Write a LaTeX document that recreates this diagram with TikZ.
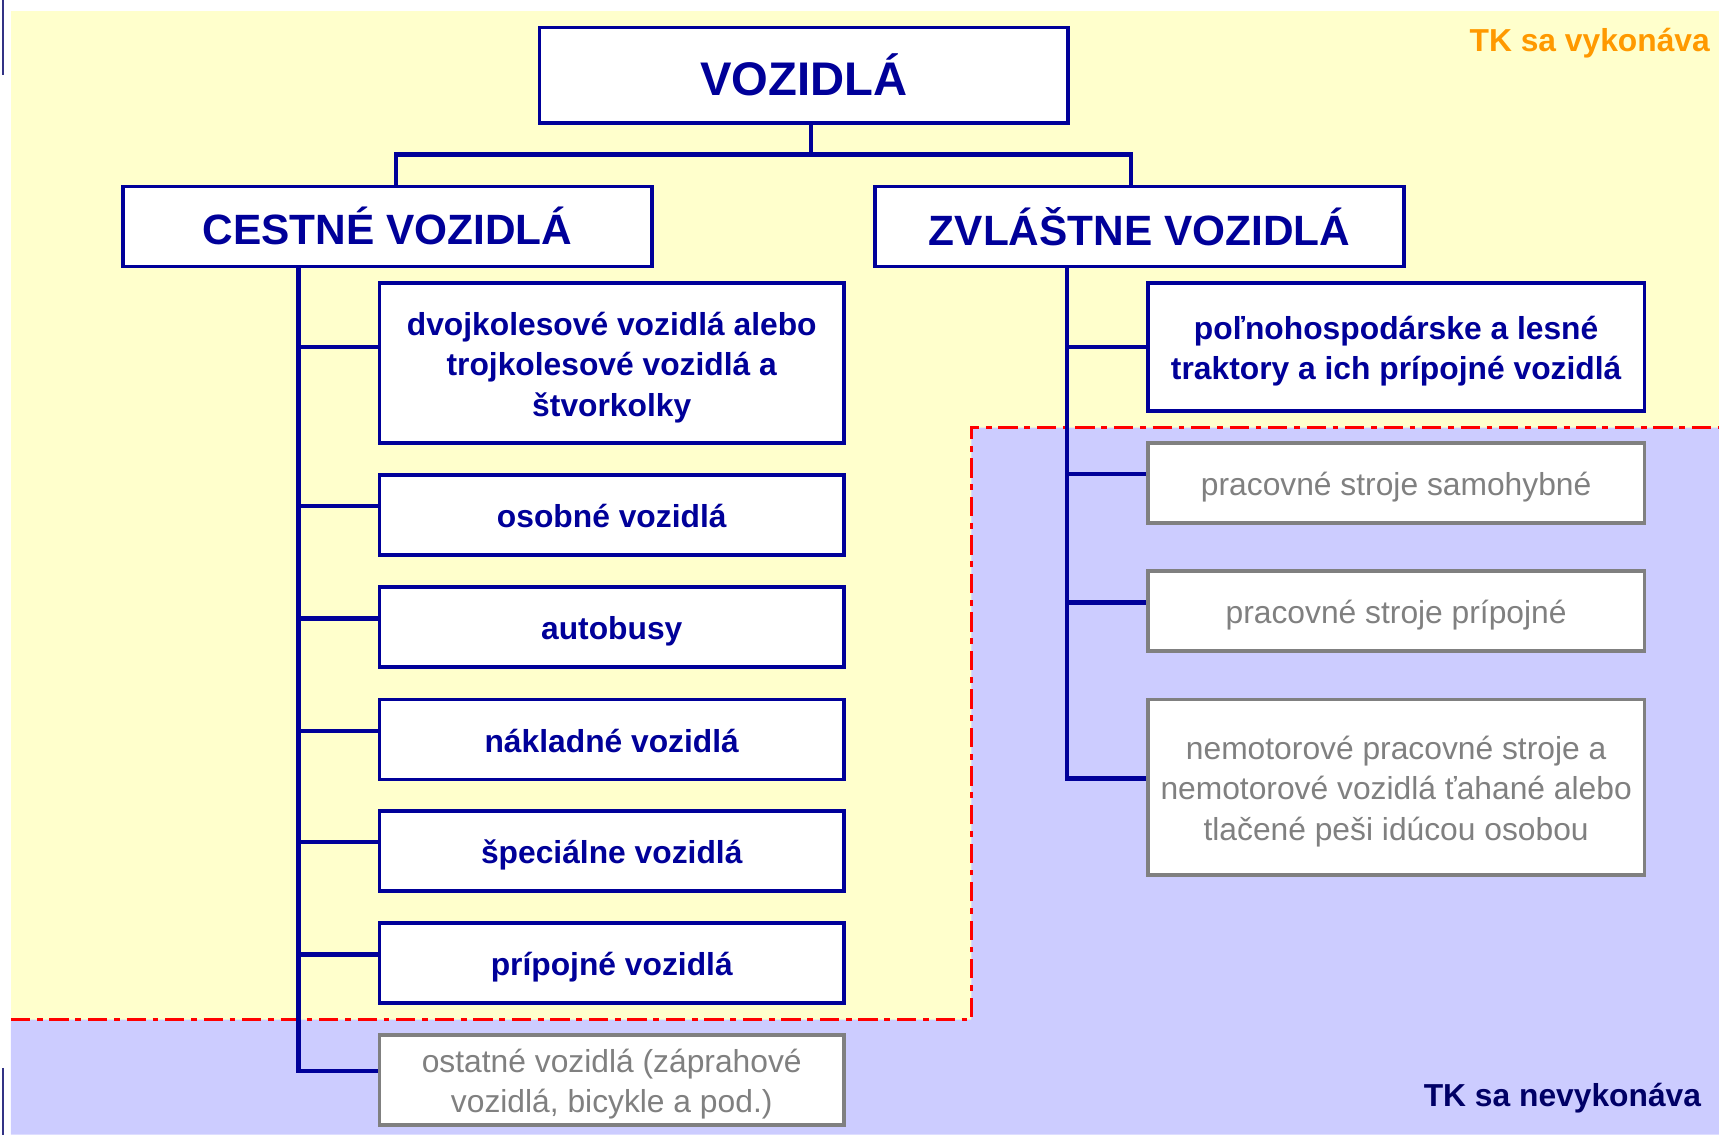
\documentclass[tikz,border=0pt]{standalone}
\usepackage{fontspec}
\setmainfont{Liberation Sans}
\usetikzlibrary{calc}
\definecolor{tkyellow}{HTML}{FFFFCC}
\definecolor{tklav}{HTML}{CCCCFF}
\definecolor{tknavy}{HTML}{000099}
\definecolor{tkgray}{HTML}{808080}
\definecolor{tkorange}{HTML}{FF9900}
\definecolor{tkdark}{HTML}{000066}
\newcommand{\boxtext}[2][2.4pt]{\raisebox{-#1}[\height][\depth]{\begin{tabular}{@{}c@{}}#2\end{tabular}}}
\tikzset{
  box/.style={draw=tknavy,fill=white,line width=1.9pt,inner sep=0pt,
    text=tknavy,font=\fontsize{16.5}{21}\selectfont\bfseries},
  greybox/.style={box,draw=tkgray,text=tkgray,font=\fontsize{16.5}{21}\selectfont},
  headbox/.style={box,minimum width=9.66cm,minimum height=1.46cm,
    font=\fontsize{22}{26}\selectfont\bfseries},
  leftbox/.style={minimum width=8.48cm},
  rightbox/.style={minimum width=9.06cm},
  link/.style={draw=tknavy,line width=2.2pt},
  border/.style={draw=red,line width=1.6pt,dash pattern=on 10pt off 3.5pt on 3pt off 3.5pt},
  tklabel/.style={anchor=east,inner sep=0pt,font=\fontsize{16.5}{20}\selectfont\bfseries}
}

\begin{document}
\begin{tikzpicture}[x=0.02cm,y=-0.02cm]
    \useasboundingbox (0,0) rectangle (1568,1035);
    % areas
    \fill[tkyellow] (10,10) rectangle (1568,930);
    \fill[tklav] (10,930) -- (886,930) -- (886,390) -- (1568,390) -- (1568,1035) -- (10,1035) -- cycle;
    \draw[border] (10,930) -- (886,930) -- (886,390) -- (1568,390);
    \draw[tkdark!80,line width=1.2pt] (3,0) -- (3,68);
    \draw[tkdark!80,line width=1.2pt] (3,974) -- (3,1035);

    \node[tklabel,text=tkorange] (tkano) at (1560,39) {TK sa vykonáva};
    \node[tklabel,text=tkdark] (tknie) at (1552,1002) {TK sa nevykonáva};

    \node[box,minimum width=9.64cm,minimum height=1.74cm,font=\fontsize{24.5}{28}\selectfont\bfseries] (vozidla) at (733,68.5) {VOZIDLÁ};
    \node[headbox] (cestne) at (353.5,206.5) {CESTNÉ VOZIDLÁ};
    \node[headbox] (zvlastne) at (1039.5,206.5) {ZVLÁŠTNE VOZIDLÁ};

    % cestne
    \node[box,leftbox,minimum height=2.92cm] (dvoj) at (558,331) {\boxtext{dvojkolesové vozidlá alebo\\trojkolesové vozidlá a\\štvorkolky}};
    \foreach \n/\y/\t in {osob/469.5/osobné vozidlá,auto/572/autobusy,nakl/674.5/nákladné vozidlá,
        spec/776/špeciálne vozidlá,prip/878.5/prípojné vozidlá} {
        \node[box,leftbox,minimum height=1.46cm] (\n) at (558,\y) {\boxtext{\t}};
    }
    \node[greybox,leftbox,minimum height=1.64cm] (ostat) at (558,985) {\boxtext{ostatné vozidlá (záprahové\\vozidlá, bicykle a pod.)}};

    % zvlastne
    \node[box,rightbox,minimum height=2.34cm] (poln) at (1273.5,316.5) {\boxtext{poľnohospodárske a lesné\\traktory a ich prípojné vozidlá}};
    \node[greybox,rightbox,minimum height=1.46cm] (samo) at (1273.5,440.5) {\boxtext{pracovné stroje samohybné}};
    \node[greybox,rightbox,minimum height=1.46cm] (pripoj) at (1273.5,557.5) {\boxtext{pracovné stroje prípojné}};
    \node[greybox,rightbox,minimum height=3.2cm] (nemot) at (1273.5,718) {\boxtext{nemotorové pracovné stroje a\\nemotorové vozidlá ťahané alebo\\tlačené peši idúcou osobou}};

    % links
    \coordinate (bus) at (740,141);
    \coordinate (lbus) at ([xshift=4.3pt]cestne.north);
    \coordinate (rbus) at ([xshift=-4.3pt]zvlastne.north);
    \draw[link] (vozidla.south -| bus) -- (bus);
    \draw[link] (lbus) |- (rbus |- bus) -- (rbus);

    \coordinate (ltrunk) at ($(cestne.south west)+(162,0)$);
    \coordinate (rtrunk) at ($(zvlastne.south west)+(177,0)$);
    \foreach \n in {osob,auto,nakl,spec,prip,ostat,samo,pripoj,nemot} {
        \coordinate (b\n) at ([yshift=4.5pt]\n.west);
    }
    \draw[link] (ltrunk) |- (bostat);
    \draw[link] (ltrunk |- poln.west) -- (dvoj.west |- poln.west);
    \foreach \n in {osob,auto,nakl,spec,prip} {
        \draw[link] (ltrunk |- b\n) -- (b\n);
    }
    \draw[link] (rtrunk) |- (bnemot);
    \draw[link] (rtrunk |- poln.west) -- (poln.west);
    \foreach \n in {samo,pripoj} {
        \draw[link] (rtrunk |- b\n) -- (b\n);
    }
\end{tikzpicture}
\end{document}
